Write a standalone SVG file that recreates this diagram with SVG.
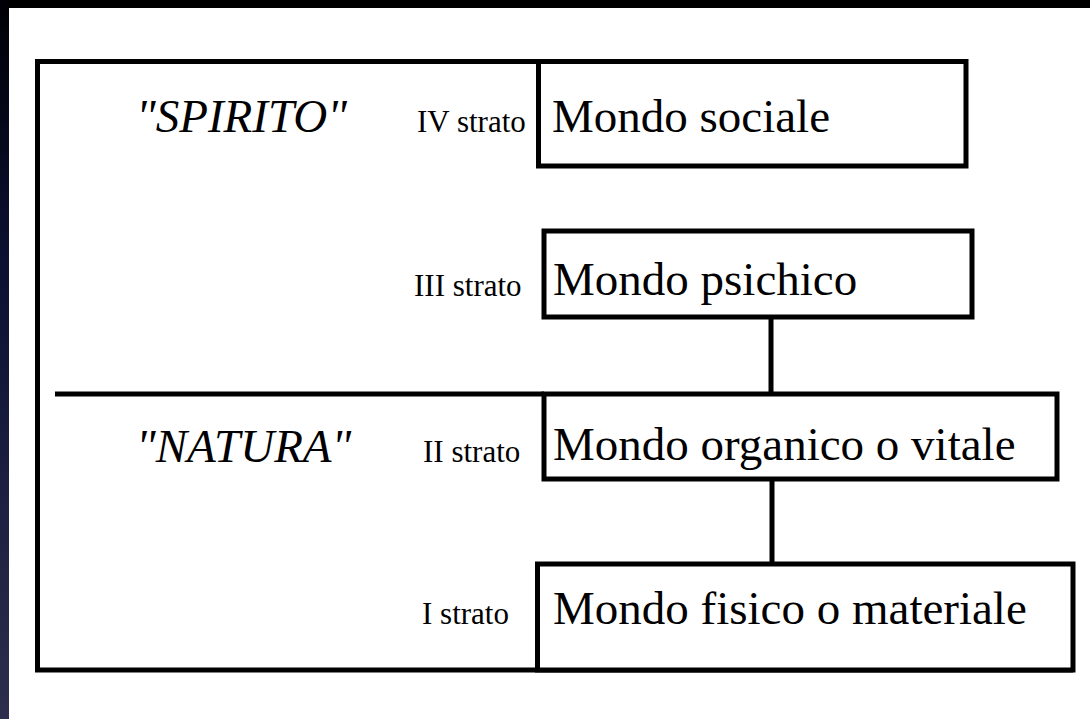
<svg xmlns="http://www.w3.org/2000/svg" width="1090" height="719" viewBox="0 0 1090 719">
<defs>
<linearGradient id="side" x1="0" y1="0" x2="0" y2="1">
<stop offset="0" stop-color="#000005"/>
<stop offset="0.35" stop-color="#0b1030"/>
<stop offset="1" stop-color="#2d2e4e"/>
</linearGradient>
<style>
.ln{fill:none;stroke:#000;stroke-width:5}
.bx{fill:#fff;stroke:#000;stroke-width:5}
.big{font-family:"Liberation Serif","Times New Roman",serif;font-size:47px;fill:#000}
.lbl{font-family:"Liberation Serif","Times New Roman",serif;font-size:31px;fill:#000}
.it{font-family:"Liberation Serif","Times New Roman",serif;font-size:47px;font-style:italic;fill:#000}
</style>
</defs>
<rect x="0" y="0" width="1090" height="719" fill="#000"/>
<rect x="0" y="0" width="9" height="719" fill="url(#side)"/>
<rect x="9" y="8" width="1081" height="711" fill="#fff"/>
<g id="frame">
<path class="ln" d="M966,61.5 H37.5 V670 H1073"/>
<line class="ln" x1="55" y1="394" x2="544" y2="394"/>
<text class="it" x="136" y="132">"SPIRITO"</text>
<text class="it" x="136" y="462">"NATURA"</text>
</g>
<g id="connectors">
<line class="ln" x1="771" y1="317" x2="771" y2="394"/>
<line class="ln" x1="772" y1="479" x2="772" y2="564"/>
</g>
<g id="sociale">
<rect class="bx" x="538.5" y="61.5" width="427.5" height="104.5"/>
<text class="lbl" x="417" y="132">IV strato</text>
<text class="big" x="552" y="132">Mondo sociale</text>
</g>
<g id="psichico">
<rect class="bx" x="544" y="231" width="428" height="86"/>
<text class="lbl" x="414" y="296">III strato</text>
<text class="big" x="553" y="295">Mondo psichico</text>
</g>
<g id="organico">
<rect class="bx" x="544" y="394" width="513" height="85"/>
<text class="lbl" x="423" y="462">II strato</text>
<text class="big" x="553" y="460">Mondo organico o vitale</text>
</g>
<g id="fisico">
<rect class="bx" x="537.5" y="564" width="535.5" height="106"/>
<text class="lbl" x="422" y="624">I strato</text>
<text class="big" x="553" y="624">Mondo fisico o materiale</text>
</g>
</svg>
